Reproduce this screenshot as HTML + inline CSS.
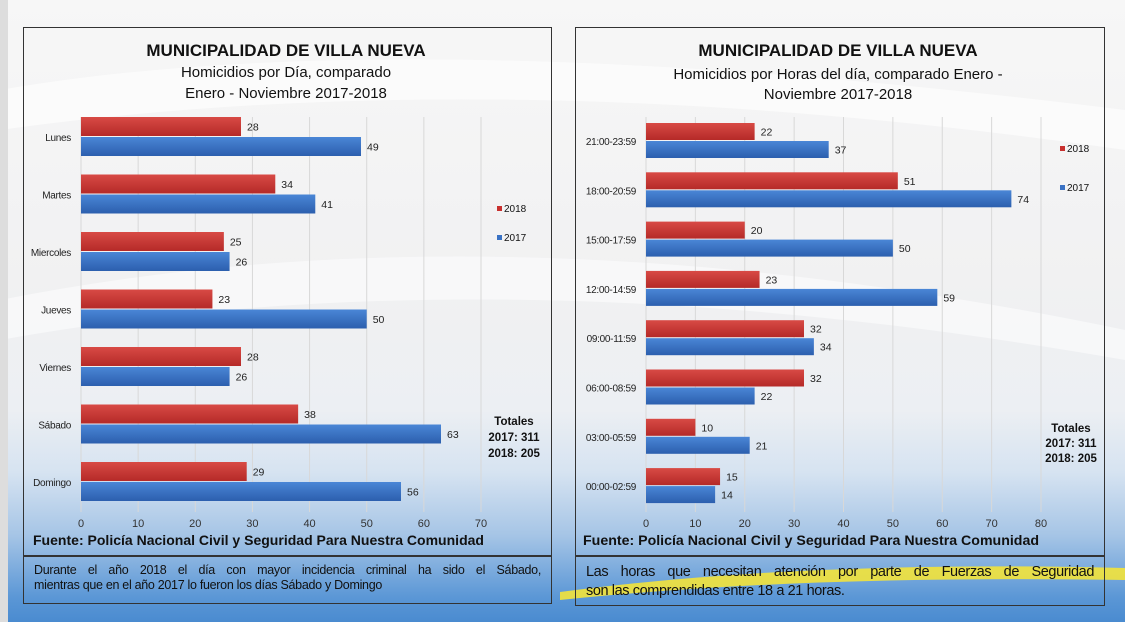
<!DOCTYPE html>
<html><head><meta charset="utf-8">
<style>
body{margin:0;width:1125px;height:622px;overflow:hidden;font-family:"Liberation Sans",sans-serif;}
#bg{position:absolute;left:0;top:0;width:1125px;height:622px;background:linear-gradient(180deg,#f7f7f7 0%,#f1f1f2 45%,#eceff3 66%,#d6e3f1 76%,#a6c5e6 86%,#5b97d6 96%,#4a8bd0 100%);}
.panel{position:absolute;border:1px solid #333;}
.tbox{position:absolute;border:1px solid #333;color:#111;}
.ln{text-align:justify;text-align-last:justify;white-space:nowrap;}
svg text{font-family:"Liberation Sans",sans-serif;}
</style></head><body>
<div id="bg">
<svg width="1125" height="622" style="position:absolute;left:0;top:0">
<path d="M0 90 Q400 20 1125 110 L1125 150 Q500 60 0 130Z" fill="#fff" opacity="0.6"/>
<path d="M0 300 Q500 200 1125 330 L1125 360 Q500 250 0 340Z" fill="#fff" opacity="0.5"/>
<path d="M560 592 Q800 560 1125 568 L1125 580 Q800 575 560 600Z" fill="#f3e33a" opacity="0.9"/>
<rect x="0" y="0" width="8" height="622" fill="#ddd"/>
</svg>
</div>
<div class="panel" style="left:23px;top:27px;width:527px;height:528px"></div>
<div class="panel" style="left:575px;top:27px;width:528px;height:528px"></div>
<div class="tbox" style="left:23px;top:555px;width:527px;height:47px;"><div style="padding:7px 10px 0 10px;line-height:15px;font-size:12.5px;letter-spacing:-0.3px"><div class="ln">Durante el año 2018 el día con mayor incidencia criminal ha sido el Sábado,</div><div>mientras que en el año 2017 lo fueron los días Sábado y Domingo</div></div></div>
<div class="tbox" style="left:575px;top:555px;width:528px;height:49px;"><div style="padding:7px 10px 0 10px;line-height:19px;font-size:14.5px;letter-spacing:-0.4px"><div class="ln">Las horas que necesitan atención por parte de Fuerzas de Seguridad</div><div>son las comprendidas entre 18 a 21 horas.</div></div></div>
<svg id="chart" width="1125" height="622" style="position:absolute;left:0;top:0"></svg>
<script>
const dias=["Lunes","Martes","Miercoles","Jueves","Viernes","Sábado","Domingo"];
const dias2018=[28,34,25,23,28,38,29];
const dias2017=[49,41,26,50,26,63,56];
const diasTicks=[0,10,20,30,40,50,60,70];
const horas=["21:00-23:59","18:00-20:59","15:00-17:59","12:00-14:59","09:00-11:59","06:00-08:59","03:00-05:59","00:00-02:59"];
const horas2018=[22,51,20,23,32,32,10,15];
const horas2017=[37,74,50,59,34,22,21,14];
const horasTicks=[0,10,20,30,40,50,60,70,80];
const NS="http://www.w3.org/2000/svg";
const svg=document.getElementById('chart');
function mk(tag,attrs,txt){const e=document.createElementNS(NS,tag);for(const k in attrs)e.setAttribute(k,attrs[k]);if(txt!==undefined)e.textContent=txt;svg.appendChild(e);return e;}
const defs=mk('defs',{});
defs.innerHTML='<linearGradient id="gr" x1="0" y1="0" x2="0" y2="1"><stop offset="0" stop-color="#d84a45"/><stop offset="1" stop-color="#b52a28"/></linearGradient><linearGradient id="gb" x1="0" y1="0" x2="0" y2="1"><stop offset="0" stop-color="#4a86d6"/><stop offset="1" stop-color="#2c5fae"/></linearGradient>';
function chart(c){
  const x=v=>c.x0+v*(c.x1-c.x0)/c.max;
  const y=i=>c.y0+i*c.step;
  c.ticks.forEach(t=>{
    const g=mk('line',{x1:x(t),x2:x(t),y1:c.gt,y2:c.gb,stroke:'#d8d8d8','stroke-width':1});
    
    const tl=mk('text',{x:x(t),y:527,'font-size':11,'text-anchor':'middle',fill:'#333'},t);
    
  });
  c.cats.forEach((cat,i)=>{
    const cy=y(i);
    const l=mk('text',{x:c.x0-10,y:cy+4,'font-size':10,'text-anchor':'end',fill:'#222','letter-spacing':'-0.3'},cat);
    
    const r=mk('rect',{x:c.x0,y:cy-c.bh-1,width:x(c.a[i])-c.x0,height:c.bh,fill:'url(#gr)'});
    
    const b=mk('rect',{x:c.x0,y:cy,width:x(c.b[i])-c.x0,height:c.bh,fill:'url(#gb)'});
    
    const v1=mk('text',{x:x(c.a[i])+6,y:cy-c.bh/2+3,'font-size':10.5,fill:'#222'},c.a[i]);
    
    const v2=mk('text',{x:x(c.b[i])+6,y:cy+c.bh/2+4,'font-size':10.5,fill:'#222'},c.b[i]);
    
  });
}
chart({cats:dias,a:dias2018,b:dias2017,ticks:diasTicks,max:70,x0:81,x1:481,y0:137,step:57.5,bh:19,gt:117,gb:512});
chart({cats:horas,a:horas2018,b:horas2017,ticks:horasTicks,max:80,x0:646,x1:1041,y0:141,step:49.3,bh:17,gt:117,gb:512});
function txt(name,x,y,s,size,weight,anchor){const t=mk('text',{x:x,y:y,'font-size':size,'font-weight':weight||'normal','text-anchor':anchor||'middle',fill:'#111'},s);return t;}
txt('left-title',286,56,'MUNICIPALIDAD DE VILLA NUEVA',17,'bold');
txt('left-subtitle',286,77,'Homicidios por Día, comparado',15);
txt('left-subtitle-2',286,98,'Enero - Noviembre  2017-2018',15);
txt('right-title',838,56,'MUNICIPALIDAD DE VILLA NUEVA',17,'bold');
txt('right-subtitle',838,79,'Homicidios por Horas del día, comparado Enero -',15);
txt('right-subtitle-2',838,99,'Noviembre 2017-2018',15);
function legend(x,y1,y2){
  const a=mk('rect',{x:x,y:y1-6,width:5,height:5,fill:'#c8302e'});
  txt('legend-2018',x+7,y1,'2018',10,'normal','start');
  const b=mk('rect',{x:x,y:y2-6,width:5,height:5,fill:'#3a72c4'});
  txt('legend-2017',x+7,y2,'2017',10,'normal','start');
}
legend(497,212,241);legend(1060,152,191);
txt('left-totals',514,425,'Totales',11.5,'bold');txt('left-totals-2017',514,441,'2017: 311',11.5,'bold');txt('left-totals-2018',514,457,'2018: 205',11.5,'bold');
txt('right-totals',1071,432,'Totales',11.5,'bold');txt('right-totals-2017',1071,447,'2017: 311',11.5,'bold');txt('right-totals-2018',1071,462,'2018: 205',11.5,'bold');
const s1=txt('left-source',33,545,'Fuente: Policía Nacional Civil  y Seguridad Para Nuestra Comunidad',14,'bold','start');
s1.setAttribute('textLength','451');s1.setAttribute('lengthAdjust','spacingAndGlyphs');
const s2=txt('right-source',583,545,'Fuente: Policía Nacional Civil  y Seguridad Para Nuestra Comunidad',14,'bold','start');
s2.setAttribute('textLength','456');s2.setAttribute('lengthAdjust','spacingAndGlyphs');
</script>
</body></html>
